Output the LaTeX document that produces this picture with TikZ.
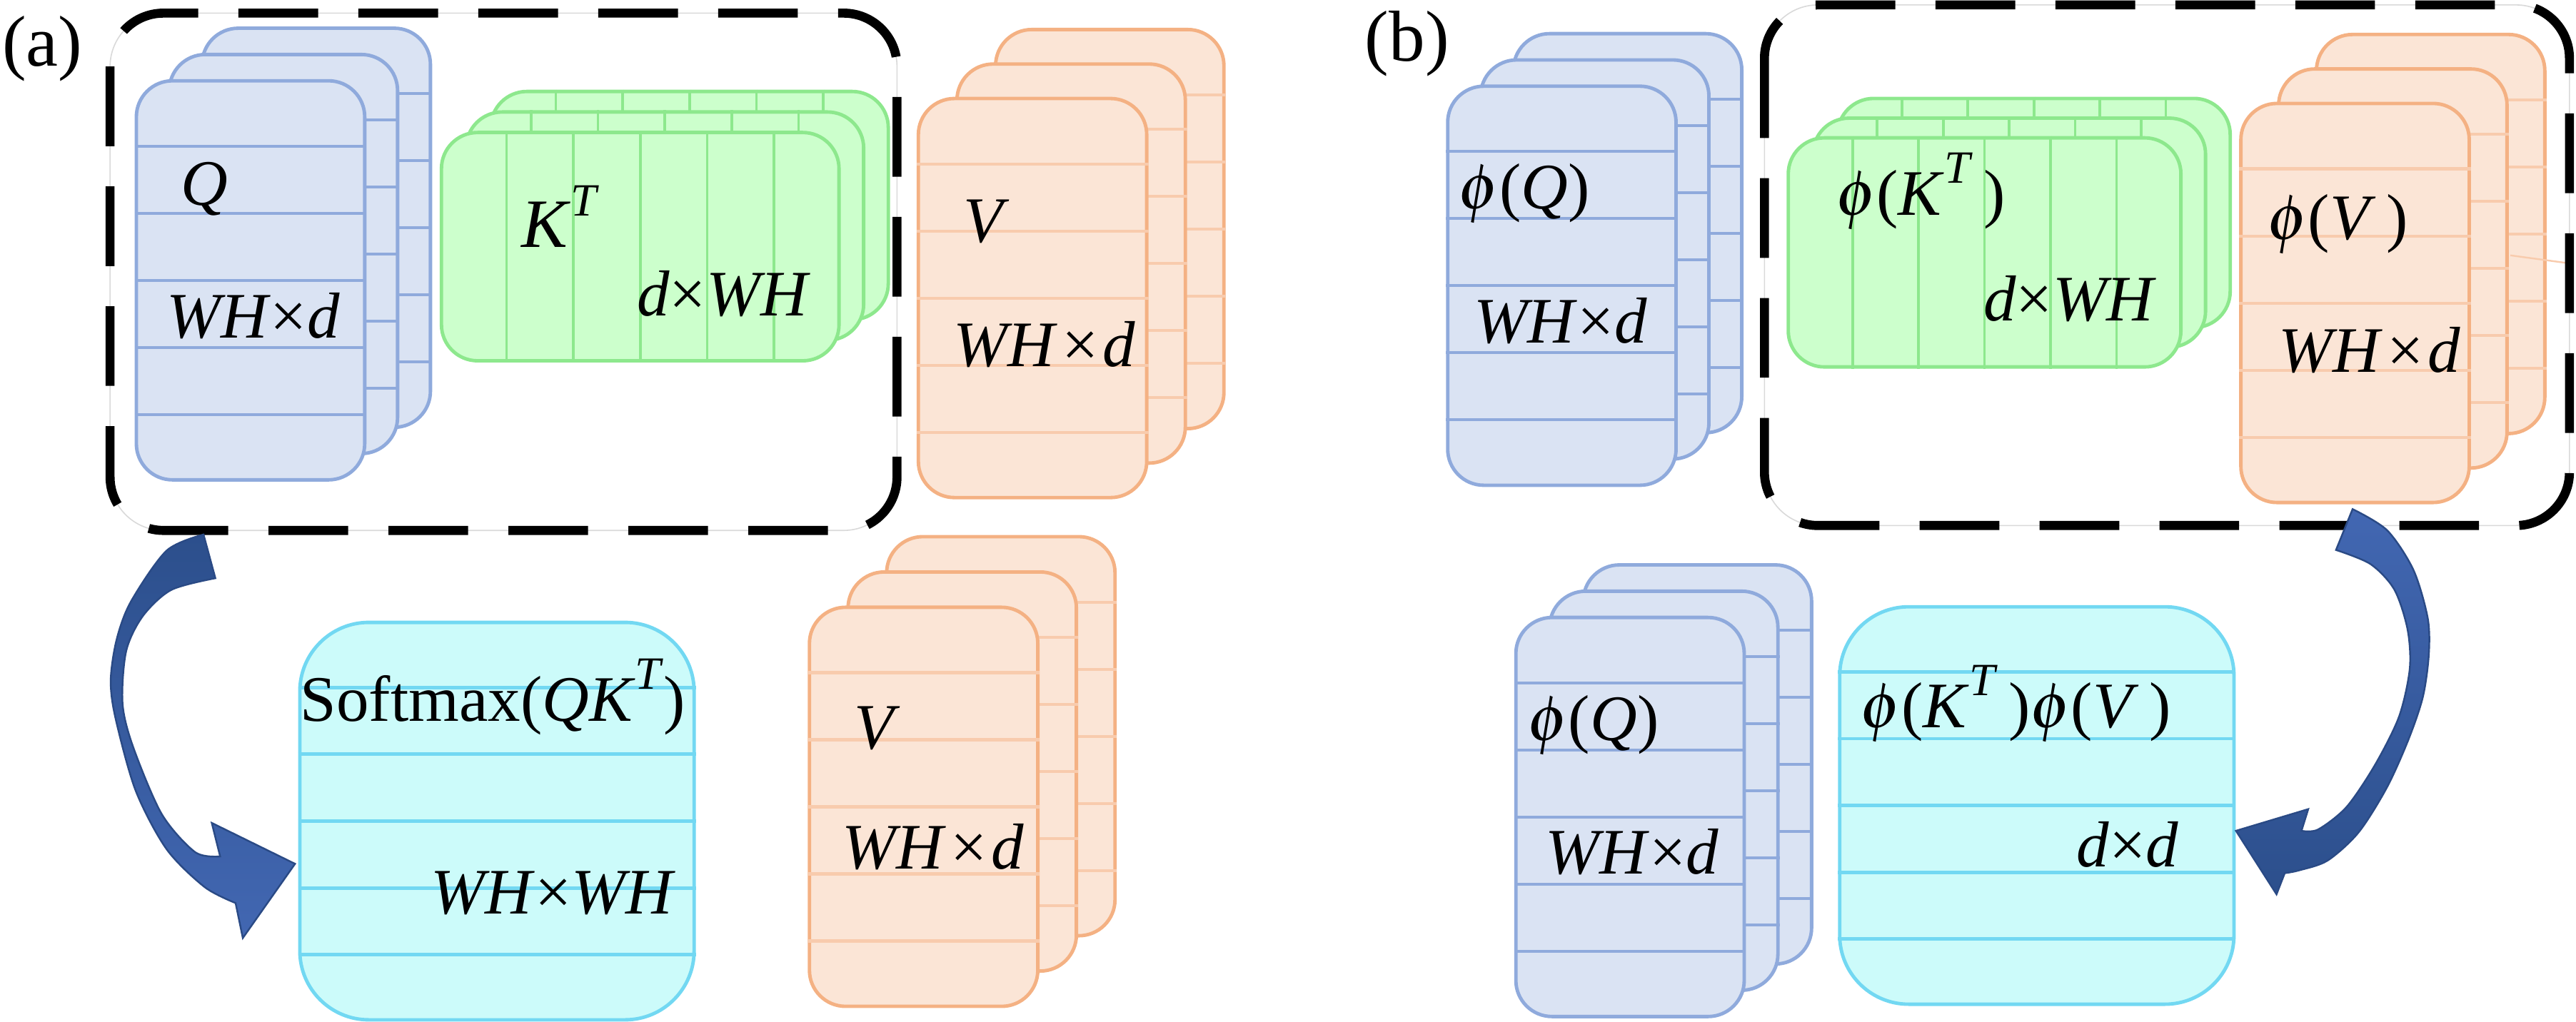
\documentclass[tikz,border=0pt]{standalone}
\usepackage{mathptmx}
\usepackage{fontspec}
\setmainfont{Liberation Serif}
\usetikzlibrary{calc}

\definecolor{qfill}{HTML}{DAE3F3}
\definecolor{qline}{HTML}{8FAADC}
\definecolor{kfill}{HTML}{CCFFCC}
\definecolor{kline}{HTML}{8DE88D}
\definecolor{vfill}{HTML}{FBE5D6}
\definecolor{vline}{HTML}{F4B183}
\definecolor{vrulec}{HTML}{F8CBAD}
\definecolor{sfill}{HTML}{CCFBFA}
\definecolor{sline}{HTML}{72D8F2}
\definecolor{arrdark}{HTML}{2C4F8C}
\definecolor{arrlight}{HTML}{4267B2}
\definecolor{arredge}{HTML}{2A4A85}

\newcommand{\supT}{\raisebox{11pt}{\fontsize{16}{16}\selectfont\textit{T}}}

\begin{document}
\begin{tikzpicture}[x=0.2mm, y=-0.2mm,
    lbl/.style={inner sep=0pt, anchor=base west, font=\fontsize{22.5}{27}\selectfont},
    panel/.style={lbl, font=\fontsize{25}{30}\selectfont},
    qcard/.style={draw=qline, fill=qfill, line width=1.2pt, rounded corners=4.4mm,
        minimum width=27.8mm, minimum height=48.6mm, inner sep=0pt},
    vcard/.style={qcard, draw=vline, fill=vfill},
    kcard/.style={qcard, draw=kline, fill=kfill, minimum width=48.4mm, minimum height=27.8mm},
    scard/.style={qcard, draw=sline, fill=sfill, rounded corners=8.4mm,
        minimum width=48mm, minimum height=48.4mm},
    qrule/.style={draw=qline, line width=1pt},
    vrule/.style={draw=vrulec, line width=1pt},
    krule/.style={draw=kline, line width=0.9pt},
    srule/.style={draw=sline, line width=1.2pt},
    group/.style={black, line width=1.1mm, dash pattern=on 9.7mm off 4.9mm, rounded corners=6.5mm},
    groupbg/.style={gray!30, line width=0.4pt, rounded corners=6.5mm},
    bigarrow/.style={draw=arredge, line width=0.6pt}]

    \useasboundingbox (0,0) rectangle (1568,622);

    % ---------------- (a) ----------------
    \node[panel] (la) at (1,40) {(a)};

    % Q
    \foreach \s in {2,1,0} {
        \node[qcard] (qa\s) at ($(152.5,170.7)+\s*(20,-16)$) {};
        \foreach \k in {1,...,5}
            \draw[qrule] ($(qa\s.north west)!{\k/6}!(qa\s.south west)$) -- ($(qa\s.north east)!{\k/6}!(qa\s.south east)$);
    }
    \node[lbl] (tqa) at (110,124.8) {\textit{Q}};
    \node[lbl] (dqa) at (101,205.9) {\textit{WH}×\textit{d}};

    % K^T
    \foreach \s in {2,1,0} {
        \node[kcard] (ka\s) at ($(389.7,150.2)+\s*(15,-12.5)$) {};
        \foreach \k in {1,...,5}
            \draw[krule] ($(ka\s.north west)!{\k/6}!(ka\s.north east)$) -- ($(ka\s.south west)!{\k/6}!(ka\s.south east)$);
    }
    \node[lbl, font=\fontsize{24}{28}\selectfont] (tka) at (317,150.7) {\textit{K}\supT};
    \node[lbl] (dka) at (387.4,192.4) {\textit{d}×\textit{WH}};

    % V (oben)
    \foreach \s in {2,1,0} {
        \node[vcard] (va\s) at ($(628.5,181.5)+\s*(23.5,-21)$) {};
        \foreach \k in {1,...,5}
            \draw[vrule] ($(va\s.north west)!{\k/6}!(va\s.south west)$) -- ($(va\s.north east)!{\k/6}!(va\s.south east)$);
    }
    \node[lbl] (tva) at (586,147.4) {\textit{V}};
    \node[lbl] (dva) at (580,223) {\textit{WH}\kern1.5pt×\kern1.5pt\textit{d}};

    % Gruppe (a)
    \draw[groupbg] (67,8) rectangle (546,323);
    \draw[group] (67,8) rectangle (546,323);

    % Softmax
    \node[scard] (sa) at (302.5,500) {};
    \foreach \k in {1,...,5}
        \draw[srule] ($(sa.north west)!{\k/6}!(sa.south west)$) -- ($(sa.north east)!{\k/6}!(sa.south east)$);
    \node[lbl] (tsa) at (182.5,439) {Softmax(\textit{QK}\supT)};
    \node[lbl] (dsa) at (262,556.5) {\textit{WH}×\textit{WH}};

    % V (unten)
    \foreach \s in {2,1,0} {
        \node[vcard] (vc\s) at ($(562.2,491.3)+\s*(23.5,-21.5)$) {};
        \foreach \k in {1,...,5}
            \draw[vrule] ($(vc\s.north west)!{\k/6}!(vc\s.south west)$) -- ($(vc\s.north east)!{\k/6}!(vc\s.south east)$);
    }
    \node[lbl] (tvc) at (519.6,456.3) {\textit{V}};
    \node[lbl] (dvc) at (512.4,529) {\textit{WH}\kern1.5pt×\kern1.5pt\textit{d}};

    % Pfeil (a)
    \path[bigarrow, top color=arrdark, bottom color=arrlight]
        plot[smooth] coordinates {(123.9,325.5) (101.4,335.3) (79.7,366.3) (71,389.4) (67.4,414.2) (70.3,437.3) (82.6,481.5) (101.4,517.1) (124.6,540.2) (143.4,549.9)}
        -- (147.8,571.2) -- (179.6,526) -- (128.9,501.1) -- (134,521.5)
        -- plot[smooth] coordinates {(134,521.5) (118.8,518.9) (98.5,495.8) (81.1,455) (74.6,428.4) (76.8,396.5) (86.9,375.2) (104.3,359.2) (131.1,352.1)}
        -- cycle;

    % ---------------- (b) ----------------
    \node[panel] (lb) at (830.5,37) {(b)};

    % phi(Q) (oben)
    \foreach \s in {2,1,0} {
        \node[qcard] (qb\s) at ($(950.7,174)+\s*(20,-16)$) {};
        \foreach \k in {1,...,5}
            \draw[qrule] ($(qb\s.north west)!{\k/6}!(qb\s.south west)$) -- ($(qb\s.north east)!{\k/6}!(qb\s.south east)$);
    }
    \node[lbl] (tqb) at (887.3,127.3) {$\phi$(\textit{Q})};
    \node[lbl] (dqb) at (896.7,209) {\textit{WH}×\textit{d}};

    % phi(K^T)
    \foreach \s in {2,1,0} {
        \node[kcard, minimum width=47.8mm, minimum height=27.9mm] (kb\s) at ($(1208,153.7)+\s*(15,-12)$) {};
        \foreach \k in {1,...,5}
            \draw[krule] ($(kb\s.north west)!{\k/6}!(kb\s.north east)$) -- ($(kb\s.south west)!{\k/6}!(kb\s.south east)$);
    }
    \node[lbl] (tkb) at (1117,131) {$\phi$(\textit{K}\supT\,)};
    \node[lbl] (dkb) at (1207,195.5) {\textit{d}×\textit{WH}};

    % phi(V)
    \foreach \s in {2,1,0} {
        \node[vcard] (vb\s) at ($(1433.5,184.5)+\s*(23,-21)$) {};
        \foreach \k in {1,...,5}
            \draw[vrule] ($(vb\s.north west)!{\k/6}!(vb\s.south west)$) -- ($(vb\s.north east)!{\k/6}!(vb\s.south east)$);
    }
    \draw[vrule, line width=0.6pt] ($(vb1.east)+(1,-8)$) -- (1564.2,160.4);
    \node[lbl] (tvb) at (1379.6,145.6) {$\phi$(\textit{V}\,)};
    \node[lbl] (dvb) at (1386.7,226.6) {\textit{WH}\kern1.5pt×\kern1.5pt\textit{d}};

    % Gruppe (b)
    \draw[groupbg] (1074,3) rectangle (1564,320);
    \draw[group] (1074,3) rectangle (1564,320);

    % phi(Q) (unten)
    \foreach \s in {2,1,0} {
        \node[qcard] (qc\s) at ($(992.2,497.5)+\s*(20.5,-16)$) {};
        \foreach \k in {1,...,5}
            \draw[qrule] ($(qc\s.north west)!{\k/6}!(qc\s.south west)$) -- ($(qc\s.north east)!{\k/6}!(qc\s.south east)$);
    }
    \node[lbl] (tqc) at (929.4,451) {$\phi$(\textit{Q})};
    \node[lbl] (dqc) at (940.5,532.2) {\textit{WH}×\textit{d}};

    % phi(K^T)phi(V)
    \node[scard] (sb) at (1239.8,490.5) {};
    \foreach \k in {1,...,5}
        \draw[srule] ($(sb.north west)!{\k/6}!(sb.south west)$) -- ($(sb.north east)!{\k/6}!(sb.south east)$);
    \node[lbl] (tsb) at (1132,443) {$\phi$(\textit{K}\supT\,)$\phi$(\textit{V}\,)};
    \node[lbl] (dsb) at (1263.7,528) {\textit{d}×\textit{d}};

    % Pfeil (b)
    \path[bigarrow, top color=arrlight, bottom color=arrdark]
        plot[smooth] coordinates {(1432,310) (1453,322.9) (1469,347) (1477.7,376.2) (1478.4,398.5) (1474.8,424.3) (1466.1,450.1) (1453,479.3) (1435.7,506.8) (1416.8,524) (1399.4,530) (1390.7,531.7)}
        -- (1385.7,544.6) -- (1361,505.9) -- (1405,492.7) -- (1400.9,505.9)
        -- plot[smooth] coordinates {(1400.9,505.9) (1411,505.1) (1428.4,491.3) (1445.8,465.5) (1460.3,436.3) (1466.8,407.1) (1465.4,383) (1457.4,359) (1442.9,343.5) (1421.9,334.9)}
        -- cycle;

\end{tikzpicture}
\end{document}
